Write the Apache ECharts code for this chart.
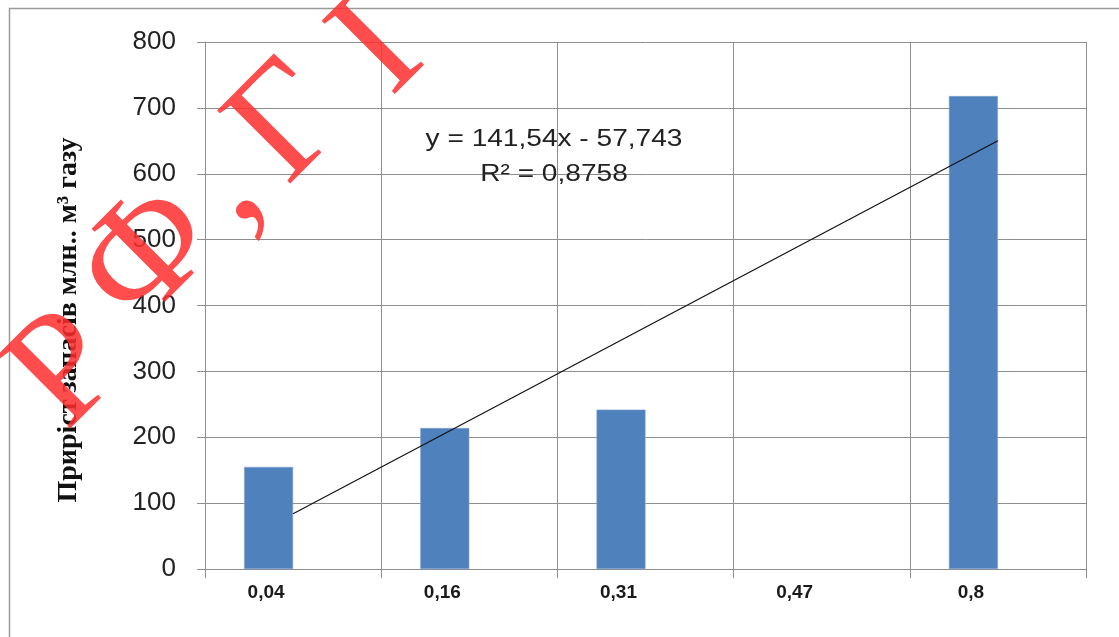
<!DOCTYPE html>
<html>
<head>
<meta charset="utf-8">
<script src="https://cdn.jsdelivr.net/npm/echarts@6/dist/echarts.min.js"></script>
<style>
  html, body { margin: 0; padding: 0; background: #fff; }
  #chart { width: 1119px; height: 637px; }
</style>
</head>
<body>
<div id="chart"></div>
<script>
// Category labels (x axis)
const categories = ['0,04', '0,16', '0,31', '0,47', '0,8'];
// Reserve growth, mln m³ of gas (no bar for 0,47)
const reserveGrowth = [155, 214, 242, null, 718];
// Value axis range
const yMin = 0;
const yMax = 800;
const yStep = 100;
// Linear trend: y = a·x + b, x is the category number 1..5
const trendSlope = 141.54;
const trendIntercept = -57.743;
const trendR2 = 0.8758;

const fmt = v => String(v).replace('.', ',');
const trendAt = n => trendSlope * n + trendIntercept;
const trendData = [[0, trendAt(1)], [categories.length - 1, trendAt(categories.length)]];
const equationText = 'y = ' + fmt(trendSlope) + 'x ' + (trendIntercept < 0 ? '- ' : '+ ') + fmt(Math.abs(trendIntercept));
const r2Text = 'R² = ' + fmt(trendR2);

const gridColor = '#8e8e8e';
const chart = echarts.init(document.getElementById('chart'), null, { renderer: 'canvas' });

const sansFont = '"Liberation Sans", Arial, sans-serif';

chart.setOption({
  animation: false,
  backgroundColor: '#ffffff',
  grid: { left: 205, right: 33, top: 42, bottom: 68, containLabel: false },
  xAxis: {
    type: 'category',
    data: categories,
    boundaryGap: true,
    axisLine: { show: true, lineStyle: { color: gridColor, width: 1 } },
    axisTick: { show: true, length: 9, interval: 0, lineStyle: { color: gridColor } },
    splitLine: { show: true, interval: 0, lineStyle: { color: gridColor, width: 1 } },
    axisLabel: {
      interval: 0,
      margin: 14,
      color: '#1a1a1a',
      fontFamily: sansFont,
      fontWeight: 'bold',
      fontSize: 19,
      padding: [0, 54, 0, 0]
    }
  },
  yAxis: {
    type: 'value',
    min: yMin,
    max: yMax,
    interval: yStep,
    axisLine: { show: true, lineStyle: { color: gridColor, width: 1 } },
    axisTick: { show: true, length: 8, lineStyle: { color: gridColor } },
    splitLine: { show: true, lineStyle: { color: gridColor, width: 1 } },
    axisLabel: {
      margin: 29,
      color: '#222',
      fontFamily: sansFont,
      fontSize: 26
    }
  },
  series: [
    {
      name: 'Приріст запасів',
      type: 'bar',
      data: reserveGrowth,
      barWidth: 49,
      barGap: '0%',
      itemStyle: { color: '#4f81bd', borderColor: '#7ea3d3', borderWidth: 0.6 },
      z: 2
    },
    {
      name: 'empty',
      type: 'bar',
      data: categories.map(() => null),
      barWidth: 49,
      barGap: '0%'
    },
    {
      name: 'Лінійна',
      type: 'line',
      data: trendData,
      showSymbol: false,
      symbol: 'none',
      lineStyle: { color: '#111', width: 1.2 },
      z: 4
    }
  ],
  graphic: [
    // outer chart frame
    {
      type: 'rect',
      shape: { x: 9.5, y: 8.5, width: 1300, height: 800 },
      style: { fill: 'none', stroke: '#9a9a9a', lineWidth: 1.5 },
      z: 0,
      silent: true
    },
    // value axis title
    {
      type: 'text',
      x: 69,
      y: 320,
      rotation: Math.PI / 2,
      style: {
        text: 'Приріст запасів млн.. м³ газу',
        font: 'bold 28px "Liberation Serif", "Times New Roman", serif',
        fill: '#111',
        textAlign: 'center', textVerticalAlign: 'middle',
        align: 'center', verticalAlign: 'middle'
      },
      z: 10
    },
    // trendline equation
    {
      type: 'text',
      x: 554,
      y: 139,
      scaleX: 1.17,
      style: {
        text: equationText,
        font: '24px ' + sansFont,
        fill: '#222',
        textAlign: 'center', textVerticalAlign: 'middle',
        align: 'center', verticalAlign: 'middle'
      },
      z: 10
    },
    {
      type: 'text',
      x: 554,
      y: 174,
      scaleX: 1.17,
      style: {
        text: r2Text,
        font: '24px ' + sansFont,
        fill: '#222',
        textAlign: 'center', textVerticalAlign: 'middle',
        align: 'center', verticalAlign: 'middle'
      },
      z: 10
    },
    // library stamp, red serif letters running diagonally
    ...[
      ['Р', 68, 372],
      ['Ф', 150, 258],
      [',', 222, 185],
      ['Г', 290, 125],
      ['І', 380, 50],
      ['Т', 520, -50]
    ].map(([ch, x, y]) => ({
      type: 'text',
      x: x,
      y: y,
      rotation: Math.PI / 4,
      style: {
        text: ch,
        font: '158px "Liberation Serif", "Times New Roman", serif',
        fill: 'rgba(255, 45, 45, 0.85)',
        textAlign: 'center', textVerticalAlign: 'middle',
        align: 'center', verticalAlign: 'middle'
      },
      z: 20,
      silent: true
    }))
  ]
});
</script>
</body>
</html>
